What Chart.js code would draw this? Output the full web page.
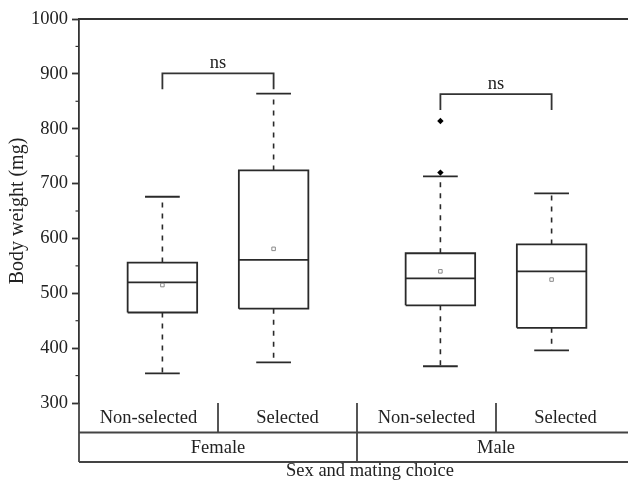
<!DOCTYPE html>
<html>
<head>
<meta charset="utf-8">
<script src="https://cdn.jsdelivr.net/npm/chart.js@4/dist/chart.umd.min.js"></script>
<style>
  html, body { margin: 0; padding: 0; background: #fff; overflow: hidden; }
  #wrap { width: 645px; height: 481px; }
</style>
</head>
<body>
<div id="wrap"><canvas id="c" width="645" height="481"></canvas></div>
<script>
// ---- Data ----
const categories = ['Non-selected', 'Selected', 'Non-selected', 'Selected'];
const groups = ['Female', 'Male'];
const positions = [0.6, 1.4, 2.6, 3.4];          // box centres on the x scale (4 cells)
const whiskerLow  = [354, 374, 367, 396];
const q1          = [465, 472, 478, 437];
const median      = [520, 561, 527, 540];
const q3          = [556, 724, 573, 589];
const whiskerHigh = [676, 864, 713, 682];
const means       = [515, 581, 540, 525];
const outliers    = [[], [], [814, 720], []];
const bracketPairs  = [[0, 1], [2, 3]];
const bracketTop    = [901, 863];
const bracketBottom = [872, 834];
const bracketLabels = ['ns', 'ns'];
const yMin = 300, yMax = 1000, yStep = 100;

const INK = '#2a2a2a';
const FONT = '"Liberation Serif", "Times New Roman", serif';
const BOX_HALF = 0.25, CAP_HALF = 0.125;

// ---- build datasets ----
const datasets = [];
positions.forEach((x, i) => {
  // box outline
  datasets.push({
    type: 'line', order: 3,
    data: [{x: x - BOX_HALF, y: q1[i]}, {x: x + BOX_HALF, y: q1[i]}, {x: x + BOX_HALF, y: q3[i]},
           {x: x - BOX_HALF, y: q3[i]}, {x: x - BOX_HALF, y: q1[i]}],
    borderColor: INK, borderWidth: 1.8, pointRadius: 0, fill: false, tension: 0, borderJoinStyle: 'miter'
  });
  // median
  datasets.push({
    type: 'line', order: 3,
    data: [{x: x - BOX_HALF, y: median[i]}, {x: x + BOX_HALF, y: median[i]}],
    borderColor: INK, borderWidth: 1.8, pointRadius: 0, fill: false
  });
  // whiskers (dashed)
  datasets.push({
    type: 'line', order: 3,
    data: [{x: x, y: q3[i]}, {x: x, y: whiskerHigh[i]}],
    borderColor: INK, borderWidth: 1.6, borderDash: [5, 6], pointRadius: 0, fill: false
  });
  datasets.push({
    type: 'line', order: 3,
    data: [{x: x, y: q1[i]}, {x: x, y: whiskerLow[i]}],
    borderColor: INK, borderWidth: 1.6, borderDash: [5, 6], pointRadius: 0, fill: false
  });
  // caps
  [whiskerHigh[i], whiskerLow[i]].forEach(v => {
    datasets.push({
      type: 'line', order: 3,
      data: [{x: x - CAP_HALF, y: v}, {x: x + CAP_HALF, y: v}],
      borderColor: INK, borderWidth: 1.8, pointRadius: 0, fill: false
    });
  });
});
// means
datasets.push({
  type: 'scatter', order: 1,
  data: positions.map((x, i) => ({x: x, y: means[i]})),
  pointStyle: 'rect', pointRadius: 2.5, borderColor: '#8a8a8a', borderWidth: 1, backgroundColor: '#fff'
});
// outliers
datasets.push({
  type: 'scatter', order: 1,
  data: positions.flatMap((x, i) => outliers[i].map(v => ({x: x, y: v}))),
  pointStyle: 'rectRot', pointRadius: 3.2, borderColor: '#000', borderWidth: 0, backgroundColor: '#000'
});
// brackets
bracketPairs.forEach((p, k) => {
  const a = positions[p[0]], b = positions[p[1]];
  datasets.push({
    type: 'line', order: 2,
    data: [{x: a, y: bracketBottom[k]}, {x: a, y: bracketTop[k]}, {x: b, y: bracketTop[k]}, {x: b, y: bracketBottom[k]}],
    borderColor: '#333', borderWidth: 1.8, pointRadius: 0, fill: false, tension: 0, borderJoinStyle: 'miter'
  });
});

// ---- custom drawing plugin: frame, minor ticks, table, labels ----
const decor = {
  id: 'decor',
  afterDraw(chart) {
    const ctx = chart.ctx;
    const xs = chart.scales.x, ys = chart.scales.y;
    const ca = chart.chartArea;
    const L = ca.left, R = ca.right, T = ca.top, B = ca.bottom;
    const row = 29.5;
    ctx.save();
    ctx.strokeStyle = '#333';
    ctx.lineWidth = 1.8;
    // top frame
    ctx.beginPath(); ctx.moveTo(L, T); ctx.lineTo(R + 2, T); ctx.stroke();
    // minor ticks
    ctx.lineWidth = 1.2;
    for (let v = yMin + yStep / 2; v < yMax; v += yStep) {
      const py = ys.getPixelForValue(v);
      ctx.beginPath(); ctx.moveTo(L - 3.5, py); ctx.lineTo(L, py); ctx.stroke();
    }
    // table
    ctx.lineWidth = 1.8;
    ctx.strokeStyle = '#444';
    ctx.beginPath();
    ctx.moveTo(L, B); ctx.lineTo(L, B + 2 * row);
    ctx.moveTo(L, B + row); ctx.lineTo(R + 2, B + row);
    ctx.moveTo(L, B + 2 * row); ctx.lineTo(R + 2, B + 2 * row);
    for (let c = 1; c < categories.length; c++) {
      const px = xs.getPixelForValue(c);
      ctx.moveTo(px, B);
      ctx.lineTo(px, B + (c % 2 === 0 ? 2 * row : row));
    }
    ctx.stroke();
    ctx.fillStyle = '#222';
    ctx.font = '18.5px ' + FONT;
    ctx.textAlign = 'center';
    ctx.textBaseline = 'middle';
    categories.forEach((t, c) => {
      ctx.fillText(t, xs.getPixelForValue(c + 0.5), B + row / 2 + 0.5);
    });
    groups.forEach((g, k) => {
      ctx.fillText(g, xs.getPixelForValue(2 * k + 1), B + row * 1.5 + 0.5);
    });
    // x axis title
    ctx.fillText('Sex and mating choice', 370, B + 2 * row + 9);
    // bracket labels
    ctx.textBaseline = 'alphabetic';
    bracketPairs.forEach((p, k) => {
      const cx = xs.getPixelForValue((positions[p[0]] + positions[p[1]]) / 2);
      ctx.fillText(bracketLabels[k], cx, ys.getPixelForValue(bracketTop[k]) - 5);
    });
    ctx.restore();
  }
};

new Chart(document.getElementById('c'), {
  type: 'scatter',
  data: { datasets },
  plugins: [decor],
  options: {
    responsive: false,
    devicePixelRatio: 1,
    animation: false,
    layout: { padding: { top: 19, bottom: 78, left: 0, right: 10 } },
    plugins: { legend: { display: false }, tooltip: { enabled: false } },
    scales: {
      x: { type: 'linear', min: 0, max: categories.length, display: false },
      y: {
        type: 'linear', min: yMin, max: yMax,
        afterFit(scale) { scale.width = 79; },
        ticks: { stepSize: yStep, color: '#222', font: { family: FONT, size: 18.5 }, padding: 4,
                 callback: v => String(v) },
        grid: { drawOnChartArea: false, drawTicks: true, tickLength: 7, tickColor: '#333', tickWidth: 1.8 },
        border: { display: true, color: '#333', width: 1.8 },
        title: { display: true, text: 'Body weight (mg)', color: '#222', font: { family: FONT, size: 20 }, padding: { top: 6, bottom: 0 } }
      }
    }
  }
});
</script>
</body>
</html>
